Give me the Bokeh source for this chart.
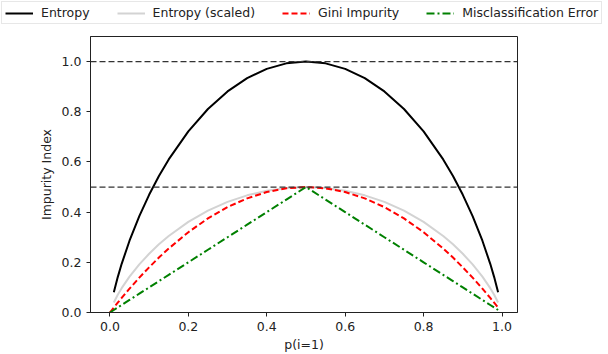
from bokeh.plotting import figure
from bokeh.layouts import column
from bokeh.models import Legend, LegendItem, Span, Range1d, FixedTicker, CustomJSTickFormatter
from bokeh.embed import file_html
from bokeh.resources import INLINE

nan = float("nan")
x = [0.0, 0.01, 0.02, 0.03, 0.05, 0.075, 0.1, 0.125, 0.15, 0.2, 0.25, 0.3, 0.35, 0.4, 0.45, 0.5,
     0.55, 0.6, 0.65, 0.7, 0.75, 0.8, 0.85, 0.875, 0.9, 0.925, 0.95, 0.97, 0.98, 0.99]
entropy = [nan, 0.081, 0.141, 0.194, 0.286, 0.384, 0.469, 0.544, 0.610, 0.722, 0.811, 0.881, 0.934, 0.971, 0.993, 1.0,
           0.993, 0.971, 0.934, 0.881, 0.811, 0.722, 0.610, 0.544, 0.469, 0.384, 0.286, 0.194, 0.141, 0.081]
entropy_scaled = [nan, 0.040, 0.071, 0.097, 0.143, 0.192, 0.234, 0.272, 0.305, 0.361, 0.406, 0.441, 0.467, 0.485, 0.496, 0.5,
                  0.496, 0.485, 0.467, 0.441, 0.406, 0.361, 0.305, 0.272, 0.234, 0.192, 0.143, 0.097, 0.071, 0.040]
gini = [0.0, 0.020, 0.039, 0.058, 0.095, 0.139, 0.180, 0.219, 0.255, 0.320, 0.375, 0.420, 0.455, 0.480, 0.495, 0.500,
        0.495, 0.480, 0.455, 0.420, 0.375, 0.320, 0.255, 0.219, 0.180, 0.139, 0.095, 0.058, 0.039, 0.020]
error = [0.0, 0.01, 0.02, 0.03, 0.05, 0.075, 0.1, 0.125, 0.15, 0.2, 0.25, 0.3, 0.35, 0.4, 0.45, 0.5,
         0.45, 0.4, 0.35, 0.3, 0.25, 0.2, 0.15, 0.125, 0.1, 0.075, 0.05, 0.03, 0.02, 0.01]
labels = ["Entropy", "Entropy (scaled)", "Gini Impurity", "Misclassification Error"]
x_ticks = [0.0, 0.2, 0.4, 0.6, 0.8, 1.0]
y_ticks = [0.0, 0.2, 0.4, 0.6, 0.8, 1.0]
ref_levels = [0.5, 1.0]

FONT = "DejaVu Sans"
FS = "12.5px"
styles = [
    dict(line_color="black", line_width=2),
    dict(line_color="lightgray", line_width=2),
    dict(line_color="red", line_width=2, line_dash="6 3"),
    dict(line_color="green", line_width=2, line_dash="8 3 2 3"),
]

# main plot
p = figure(width=608, height=328, output_backend="svg", toolbar_location=None,
           x_range=Range1d(-0.0495, 1.0395), y_range=Range1d(0, 1.1),
           min_border_left=90, min_border_right=91, min_border_top=10, min_border_bottom=41)
p.frame_align = False
p.grid.visible = False
p.outline_line_color = "#222222"
p.outline_line_width = 1
p.background_fill_color = "white"
p.border_fill_color = "white"

series = [entropy, entropy_scaled, gini, error]
for ys, st in zip(series, styles):
    p.line(x, ys, **st)

for lv in ref_levels:
    p.add_layout(Span(location=lv, dimension="width", line_color="#333333",
                      line_width=1.2, line_dash="6 3"))

for ax in (p.xaxis[0], p.yaxis[0]):
    ax.axis_line_color = "#222222"
    ax.major_tick_line_color = "#222222"
    ax.major_tick_out = 4
    ax.major_tick_in = 0
    ax.minor_tick_out = 0
    ax.minor_tick_in = 0
    ax.major_label_text_font = FONT
    ax.major_label_text_font_size = FS
    ax.major_label_text_color = "#222222"
    ax.axis_label_text_font = FONT
    ax.axis_label_text_font_size = FS
    ax.axis_label_text_font_style = "normal"
    ax.axis_label_text_color = "#222222"

p.xaxis.ticker = FixedTicker(ticks=x_ticks)
p.yaxis.ticker = FixedTicker(ticks=y_ticks)
p.xaxis.formatter = CustomJSTickFormatter(code="return tick.toFixed(1);")
p.yaxis.formatter = CustomJSTickFormatter(code="return tick.toFixed(1);")
p.xaxis.axis_label = "p(i=1)"
p.yaxis.axis_label = "Impurity Index"
p.xaxis.axis_label_standoff = 3
p.yaxis.axis_label_standoff = 5

# legend strip
lf = figure(width=608, height=26, output_backend="svg", toolbar_location=None,
            x_range=Range1d(0, 1), y_range=Range1d(0, 1),
            min_border=0, min_border_left=0, min_border_right=0, min_border_top=0, min_border_bottom=0)
lf.frame_align = False
lf.axis.visible = False
lf.grid.visible = False
lf.outline_line_color = None
lf.border_fill_color = "white"
lrs = [lf.line([0], [0], **st) for st in styles]
legend = Legend(items=[LegendItem(label=l, renderers=[r]) for l, r in zip(labels, lrs)],
                orientation="horizontal", location=(1, 2),
                label_text_font=FONT, label_text_font_size=FS, label_text_color="#222222",
                glyph_width=28, glyph_height=14, label_standoff=8, spacing=27,
                padding=3, margin=0,
                border_line_color="#d0d0d0", border_line_width=1,
                background_fill_color="white", background_fill_alpha=1)
lf.add_layout(legend, "center")

layout = column(lf, p, spacing=0)
open("out.html", "w").write(file_html(layout, INLINE))
